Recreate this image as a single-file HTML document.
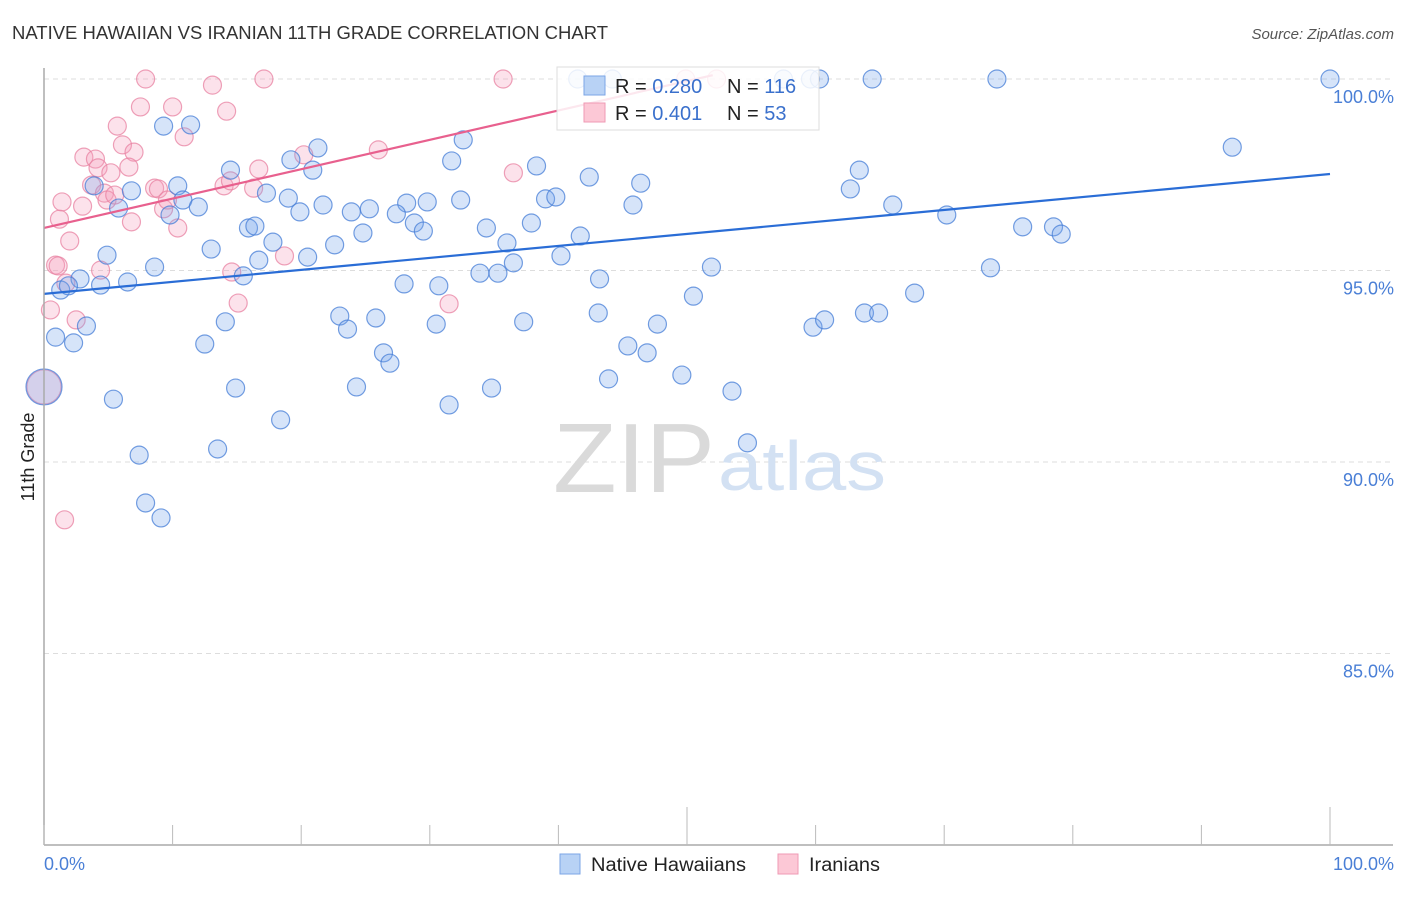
<!DOCTYPE html>
<html><head><meta charset="utf-8"><style>
body{margin:0;background:#fff;font-family:"Liberation Sans",sans-serif;}
svg text{font-family:"Liberation Sans",sans-serif;}
</style></head><body>
<svg id="chart" width="1406" height="892" viewBox="0 0 1406 892">
<text x="12" y="39" font-size="18" fill="#333" textLength="596" lengthAdjust="spacingAndGlyphs">NATIVE HAWAIIAN VS IRANIAN 11TH GRADE CORRELATION CHART</text>
<text x="1394" y="39" font-size="15" fill="#555" font-style="italic" text-anchor="end">Source: ZipAtlas.com</text>
<g id="grid"></g>
<text x="553" y="492" font-size="98" fill="#dadada" font-family="Liberation Serif" textLength="162" lengthAdjust="spacingAndGlyphs">ZIP</text>
<text x="718" y="490" font-size="70" fill="#d3e1f3" textLength="168" lengthAdjust="spacingAndGlyphs">atlas</text>
<g id="pts"></g>
<g id="lines"></g>
<line x1="44" y1="68" x2="44" y2="845" stroke="#aaa" stroke-width="1.5"/>
<line x1="44" y1="845" x2="1393" y2="845" stroke="#aaa" stroke-width="1.5"/>
<g id="axes"></g>
<text transform="translate(34,457) rotate(-90)" font-size="18" fill="#222" text-anchor="middle">11th Grade</text>
<text x="44" y="870" font-size="18" fill="#4a7fd6">0.0%</text>
<text x="1394" y="870" font-size="18" fill="#4a7fd6" text-anchor="end">100.0%</text>
<g>
<rect x="557" y="67" width="262" height="63" fill="rgba(255,255,255,0.85)" stroke="#ddd"/>
<rect x="584" y="76" width="21" height="19" fill="#b8d2f5" stroke="#7ba5e6"/>
<rect x="584" y="103" width="21" height="19" fill="#fcc8d6" stroke="#ef9ab4"/>
<text x="615" y="93" font-size="20" fill="#222">R = <tspan fill="#3a70cc">0.280</tspan></text>
<text x="727" y="93" font-size="20" fill="#222">N = <tspan fill="#3a70cc">116</tspan></text>
<text x="615" y="120" font-size="20" fill="#222">R =  <tspan fill="#3a70cc">0.401</tspan></text>
<text x="727" y="120" font-size="20" fill="#222">N =  <tspan fill="#3a70cc">53</tspan></text>
</g>
<g>
<rect x="560" y="854" width="20" height="20" fill="#b8d2f5" stroke="#7ba5e6"/>
<text x="591" y="871" font-size="19" fill="#222" textLength="155" lengthAdjust="spacingAndGlyphs">Native Hawaiians</text>
<rect x="778" y="854" width="20" height="20" fill="#fcc8d6" stroke="#ef9ab4"/>
<text x="809" y="871" font-size="19" fill="#222" textLength="71" lengthAdjust="spacingAndGlyphs">Iranians</text>
</g>
</svg>
<script>
const yTicks=[100,95,90,85];
const yTickLabels=["100.0%","95.0%","90.0%","85.0%"];
const xTicks=[0,10,20,30,40,50,60,70,80,90,100];
const blueX=[9.3,11.4,21.3,19.2,14.5,20.9,31.7,32.6,38.3,42.4,46.4,63.4,62.7,92.4,10.4,17.3,6.8,3.9,10.8,12.0,5.8,9.8,19.0,21.7,19.9,23.9,25.3,28.2,29.8,32.4,27.4,28.8,29.5,39.0,39.8,45.8,66.0,70.2,76.1,78.5,79.1,15.9,16.4,17.8,13.0,22.6,24.8,34.4,37.9,36.0,41.7,4.9,8.6,16.7,15.5,20.5,36.5,33.9,35.3,40.2,51.9,73.6,2.8,6.5,4.4,1.3,1.9,28.0,30.7,43.2,50.5,67.7,3.3,0.9,2.3,14.1,12.5,23.0,23.6,25.8,30.5,37.3,43.1,47.7,59.8,60.7,63.8,64.9,26.4,26.9,45.4,46.9,5.4,14.9,24.3,34.8,43.9,49.6,53.5,18.4,31.5,13.5,7.4,54.7,7.9,9.1,41.5,44.2,57.5,59.6,60.3,64.4,74.1,100,0];
const blueY=[98.77,98.8,98.2,97.89,97.62,97.62,97.86,98.41,97.73,97.44,97.28,97.62,97.13,98.22,97.21,97.02,97.08,97.21,96.84,96.66,96.63,96.45,96.89,96.71,96.53,96.53,96.61,96.76,96.79,96.84,96.48,96.24,96.03,96.87,96.92,96.71,96.71,96.45,96.14,96.14,95.95,96.11,96.16,95.74,95.56,95.67,95.98,96.11,96.24,95.72,95.9,95.4,95.09,95.27,94.86,95.35,95.2,94.93,94.93,95.38,95.09,95.07,94.78,94.7,94.62,94.49,94.6,94.65,94.6,94.78,94.33,94.41,93.55,93.26,93.11,93.66,93.08,93.81,93.47,93.76,93.6,93.66,93.89,93.6,93.52,93.71,93.89,93.89,92.85,92.58,93.03,92.85,91.64,91.93,91.96,91.93,92.17,92.27,91.85,91.1,91.49,90.34,90.18,90.5,88.93,88.54,100,100,100,100,100,100,100,100,91.96];
const blueSize=blueX.map((v,i)=>i===blueX.length-1?2:1);
const pinkX=[7.9,17.1,35.7,52.3,49.9,13.1,10.0,7.5,14.2,5.7,10.9,6.1,7.0,3.1,4.0,4.2,6.6,5.2,16.7,26.0,20.2,36.5,3.7,1.4,3.0,1.2,4.7,4.9,5.5,8.6,8.9,14.0,14.5,16.3,9.3,9.6,10.4,6.8,2.0,0.9,1.1,4.4,14.6,18.7,2.5,0.5,1.7,15.1,31.5,1.6,0];
const pinkY=[100,100,100,100,100,99.84,99.27,99.27,99.16,98.77,98.49,98.28,98.09,97.96,97.91,97.68,97.7,97.55,97.65,98.15,98.02,97.55,97.23,96.79,96.68,96.34,97.02,96.84,96.97,97.15,97.13,97.21,97.34,97.15,96.61,96.84,96.11,96.27,95.77,95.14,95.12,95.01,94.96,95.38,93.71,93.97,94.67,94.15,94.13,88.49,91.96];
const pinkSize=pinkX.map((v,i)=>i===pinkX.length-1?1.9:1);
const blueTrend=[[0,94.39],[100,97.52]];
const pinkTrend=[[0,96.11],[52,100.1]];
const X=v=>44+v*12.86;
const Y=v=>79+(100-v)*38.3;
const NS="http://www.w3.org/2000/svg";
function mk(tag,attrs,parent){const e=document.createElementNS(NS,tag);for(const k in attrs)e.setAttribute(k,attrs[k]);parent.appendChild(e);return e;}
const grid=document.getElementById('grid'),axes=document.getElementById('axes'),pts=document.getElementById('pts'),lines=document.getElementById('lines');
yTicks.forEach((t,i)=>{
 const l=mk('line',{x1:44,x2:1393,y1:Y(t),y2:Y(t),stroke:'#ddd','stroke-dasharray':'5,4'},grid);
 
 
 const tx=mk('text',{x:1394,y:Y(t)+24,'font-size':18,fill:'#4a7fd6','text-anchor':'end'},axes);
 tx.textContent=yTickLabels[i];
 
 
});
xTicks.forEach(t=>{
 const big=(t===50||t===100);
 const l=mk('line',{x1:X(t),x2:X(t),y1:big?807:825,y2:845,stroke:'#bbb'},axes);
 
 
});
function drawPts(xs,ys,ss,fill,stroke,name){
 xs.forEach((x,i)=>{
  const c=mk('circle',{cx:X(x),cy:Y(ys[i]),r:9*ss[i],fill:fill,stroke:stroke,'stroke-width':1.2},pts);
  
  
 });
}
drawPts(pinkX,pinkY,pinkSize,'rgba(246,160,188,0.3)','rgba(232,130,162,0.75)','iranian-point');
drawPts(blueX,blueY,blueSize,'rgba(120,165,235,0.3)','rgba(70,125,215,0.75)','native-hawaiian-point');
const bl=mk('line',{x1:X(blueTrend[0][0]),y1:Y(blueTrend[0][1]),x2:X(blueTrend[1][0]),y2:Y(blueTrend[1][1]),stroke:'#2a6dd6','stroke-width':2.2},lines);


const pl=mk('line',{x1:X(pinkTrend[0][0]),y1:Y(pinkTrend[0][1]),x2:X(pinkTrend[1][0]),y2:Y(pinkTrend[1][1]),stroke:'#e8608e','stroke-width':2.2},lines);


</script>
</body></html>
